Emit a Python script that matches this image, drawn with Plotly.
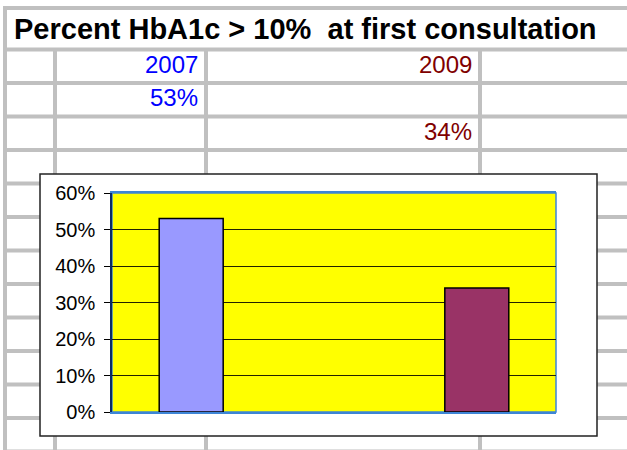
import plotly.graph_objects as go

# ---- data ----
years = ["2007", "2009"]
values = [0.53, 0.34]
bar_colors = ["#9999ff", "#993366"]
text_colors = ["#0000ff", "#800000"]
title_text = "Percent HbA1c &gt; 10%\u00a0 at first consultation"
y_ticks = [0, 0.1, 0.2, 0.3, 0.4, 0.5, 0.6]

# ---- layout geometry (pixels) ----
W, H = 627, 450
PLOT_L, PLOT_R, PLOT_T, PLOT_B = 112, 556, 193, 412
BOX_L, BOX_T, BOX_R, BOX_B = 40, 174, 597, 436
GRID = "#c0c0c0"
col_x = [55, 206, 480]
row_y = [49.5 + 33.5 * k for k in range(13)]
FONT = "Liberation Sans, Arial, sans-serif"


def px(x):
    return x / W


def py(y):
    return 1 - y / H


shapes = []


def gline(x0, y0, x1, y1):
    shapes.append(dict(type="line", xref="paper", yref="paper",
                       x0=px(x0), y0=py(y0), x1=px(x1), y1=py(y1),
                       line=dict(color=GRID, width=4), layer="below"))


gline(3, 8, 627, 8)
gline(5, 6, 5, 452)
for x in col_x:
    gline(x, 49.5, x, 452)
for y in row_y:
    gline(3, y, 627, y)

# chart box
shapes.append(dict(type="rect", xref="paper", yref="paper",
                   x0=px(BOX_L), y0=py(BOX_B), x1=px(BOX_R), y1=py(BOX_T),
                   fillcolor="white", line=dict(color="#222222", width=1.5),
                   layer="below"))
# plot area
shapes.append(dict(type="rect", xref="paper", yref="paper",
                   x0=px(PLOT_L), y0=py(PLOT_B), x1=px(PLOT_R), y1=py(PLOT_T),
                   fillcolor="#ffff00", line=dict(color="#3d85d6", width=1.5),
                   layer="below"))

annotations = [dict(text="<b>" + title_text + "</b>", xref="paper", yref="paper",
                    x=px(12), y=py(28.5), xanchor="left", yanchor="middle",
                    showarrow=False, font=dict(family=FONT, size=29, color="black"))]
for i, (yr, v) in enumerate(zip(years, values)):
    xr = px(col_x[i + 1] - 6)
    annotations.append(dict(text=yr, xref="paper", yref="paper", x=xr,
                            y=py(row_y[1] - 18), xanchor="right", yanchor="middle",
                            showarrow=False,
                            font=dict(family=FONT, size=24, color=text_colors[i])))
    annotations.append(dict(text=f"{round(v * 100)}%", xref="paper", yref="paper",
                            x=xr, y=py(row_y[2 + i] - 19), xanchor="right",
                            yanchor="middle", showarrow=False,
                            font=dict(family=FONT, size=24, color=text_colors[i])))

fig = go.Figure(go.Bar(
    x=years, y=values, width=0.224,
    marker=dict(color=bar_colors, line=dict(color="black", width=1.5)),
    hoverinfo="skip",
))

fig.update_layout(
    template="none",
    width=W, height=H,
    margin=dict(l=0, r=0, t=0, b=0, pad=0, autoexpand=False),
    paper_bgcolor="white", plot_bgcolor="rgba(0,0,0,0)",
    showlegend=False,
    shapes=shapes, annotations=annotations,
    xaxis=dict(domain=[px(PLOT_L), px(PLOT_R)], type="category",
               range=[-0.2773, 1.2773], showticklabels=False, ticks="",
               showgrid=False, zeroline=False, showline=True, mirror=True,
               linecolor="#3d85d6", linewidth=1.5, layer="below traces",
               automargin=False, fixedrange=True),
    yaxis=dict(domain=[py(PLOT_B), py(PLOT_T)], range=[0, 0.6],
               tickvals=y_ticks, tickformat=".0%", showgrid=True,
               gridcolor="#222200", gridwidth=1, zeroline=False,
               showline=True, linecolor="#0b2a66", linewidth=1.5,
               ticks="outside", ticklen=6, tickcolor="black", tickwidth=1,
               tickfont=dict(family=FONT, size=20, color="black"),
               ticklabelstandoff=5, automargin=False, fixedrange=True),
    font=dict(family=FONT),
)

fig.write_html("out.html", config={"displayModeBar": False},
               post_script="document.body.style.margin='0';")
